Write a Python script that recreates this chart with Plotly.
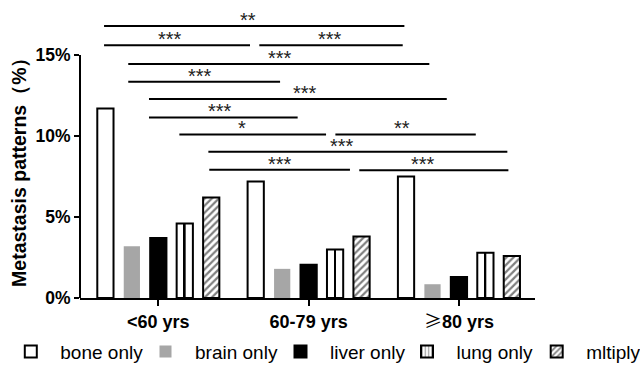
import plotly.graph_objects as go

# ---------------- data ----------------
categories = ["<60 yrs", "60-79 yrs", "≥80 yrs"]
tick_labels = ["<60 yrs", "60-79 yrs",
               '<span style="font-family:Noto Sans CJK SC;font-weight:normal">≥</span>80 yrs']
series_names = ["bone only", "brain only", "liver only", "lung only", "mltiply"]
bone_only = [11.7, 7.2, 7.5]
brain_only = [3.2, 1.8, 0.85]
liver_only = [3.7, 2.05, 1.3]
lung_only = [4.6, 3.0, 2.8]
mltiply = [6.2, 3.8, 2.6]

# significance brackets: start, end (category units), level (%), label, label position
sig_x0 = [-0.361, -0.361, 0.672, -0.200, -0.200, -0.062, -0.062, 0.140, 1.178, 0.333, 0.339, 1.337]
sig_x1 = [1.637, 0.610, 1.626, 1.803, 0.810, 1.919, 0.927, 1.116, 2.112, 2.322, 1.275, 2.329]
sig_y = [16.79, 15.60, 15.60, 14.44, 13.35, 12.28, 11.15, 10.10, 10.10, 9.03, 7.92, 7.88]
sig_text = ["**", "***", "***", "***", "***", "***", "***", "*", "**", "***", "***", "***"]
sig_label_x = [0.597, 0.078, 1.142, 0.810, 0.277, 0.976, 0.410, 0.555, 1.619, 1.220, 0.810, 1.763]

y_ticks = [0, 5, 10, 15]
y_tick_text = ["0%", "5%", "10%", "15%"]

# ---------------- styling ----------------
FONT = "Liberation Sans, Arial, sans-serif"
W, H = 640, 370
slot = 0.176
bw = 0.108
legend_x_px = [1.3, 136, 271, 397.5, 527.2]
legend_y = 1 - 351.7 / H

fig = go.Figure()

def off(i):
    return (i - 2) * slot - bw / 2

lg = ["legend", "legend2", "legend3", "legend4", "legend5"]

# bone
fig.add_trace(go.Bar(x=categories, y=bone_only, name=series_names[0], offset=off(0), width=bw,
                     legend=lg[0],
                     marker=dict(color="white", line=dict(color="black", width=2))))
# brain
fig.add_trace(go.Bar(x=categories, y=brain_only, name=series_names[1], offset=off(1), width=bw,
                     legend=lg[1],
                     marker=dict(color="#A6A6A6", line=dict(color="#A6A6A6", width=0))))
# liver
fig.add_trace(go.Bar(x=categories, y=liver_only, name=series_names[2], offset=off(2), width=bw,
                     legend=lg[2],
                     marker=dict(color="black", line=dict(color="black", width=2))))
# lung (legend entry with pattern, bars drawn plain + divider)
fig.add_trace(go.Bar(x=categories, y=[None, None, None], name=series_names[3], offset=off(3), width=bw,
                     legend=lg[3],
                     marker=dict(color="white", line=dict(color="black", width=2),
                                 pattern=dict(shape="|", fgcolor="black", bgcolor="white",
                                              size=4, solidity=0.3))))
fig.add_trace(go.Bar(x=categories, y=lung_only, name=series_names[3], offset=off(3), width=bw,
                     showlegend=False,
                     marker=dict(color="white", line=dict(color="black", width=2))))
fig.add_trace(go.Bar(x=categories, y=lung_only, name=series_names[3], offset=slot - 0.006,
                     width=0.012, showlegend=False,
                     marker=dict(color="black", line=dict(width=0))))
# multiply
fig.add_trace(go.Bar(x=categories, y=mltiply, name=series_names[4], offset=off(4), width=bw,
                     legend=lg[4],
                     marker=dict(color="white", line=dict(color="black", width=2),
                                 pattern=dict(shape="/", fgcolor="black", bgcolor="white",
                                              size=5, solidity=0.45))))

# y-axis line only up to 15%
fig.add_shape(type="line", xref="paper", yref="y", x0=0, x1=0, y0=0, y1=y_ticks[-1],
              line=dict(color="black", width=2))

for x0, x1, y, t, lx in zip(sig_x0, sig_x1, sig_y, sig_text, sig_label_x):
    fig.add_shape(type="line", xref="x", yref="y", x0=x0, x1=x1, y0=y, y1=y,
                  line=dict(color="black", width=2))
    fig.add_annotation(x=lx, y=y, xref="x", yref="y", text=t, showarrow=False,
                       yanchor="bottom", yshift=-7,
                       font=dict(family=FONT, size=20, color="#222"))

fig.add_annotation(text="Metastasis patterns（%）", xref="paper", yref="paper",
                   x=-0.1356, y=0.445, textangle=-90, showarrow=False,
                   xanchor="center", yanchor="middle",
                   font=dict(family=FONT, size=19.5, color="black", weight="bold"))

legend_common = dict(orientation="h", xref="container", yref="container",
                     yanchor="middle", xanchor="left", itemwidth=49,
                     font=dict(family=FONT, size=19, color="black"),
                     bgcolor="rgba(0,0,0,0)", borderwidth=0)
legends = {}
for name, xp in zip(lg, legend_x_px):
    legends[name] = dict(legend_common, x=xp / W, y=legend_y)

fig.update_layout(
    width=W, height=H,
    margin=dict(l=80, r=105, t=5, b=72, autoexpand=False),
    paper_bgcolor="white", plot_bgcolor="white",
    barmode="overlay",
    font=dict(family=FONT, color="black"),
    xaxis=dict(type="category", range=[-0.521, 2.506], showline=True, linewidth=2,
               linecolor="black", ticks="outside", ticklen=6, tickwidth=2, tickcolor="black",
               tickvals=categories, ticktext=tick_labels, showgrid=False, zeroline=False,
               tickfont=dict(family=FONT, size=18, color="black", weight="bold")),
    yaxis=dict(range=[0, 18.09], tickvals=y_ticks, ticktext=y_tick_text, ticks="outside",
               ticklen=5, tickwidth=2, tickcolor="black", showline=False, showgrid=False,
               zeroline=False,
               tickfont=dict(family=FONT, size=17.5, color="black", weight="bold")),
    showlegend=True,
    **legends,
)

fig.write_html("out.html")
